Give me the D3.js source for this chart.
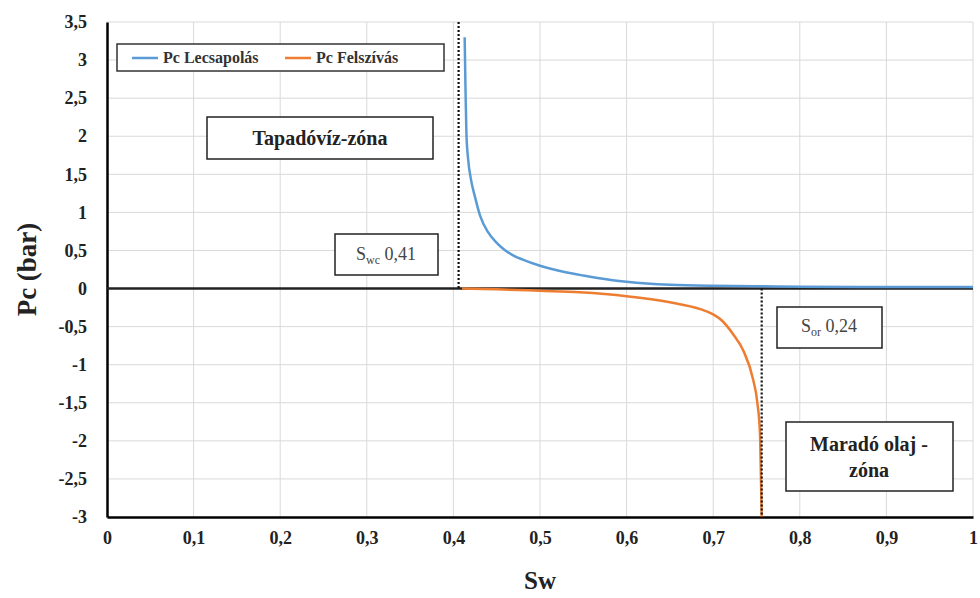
<!DOCTYPE html>
<html>
<head>
<meta charset="utf-8">
<script src="https://cdn.jsdelivr.net/npm/d3@7"></script>
<style>
    body { margin: 0; background: #ffffff; }
    svg { display: block; }
</style>
</head>
<body>
<div id="chart"></div>
<script>
// drainage curve (Pc Lecsapolás): [Sw, Pc]
var drainageSw = [0.413, 0.414, 0.415, 0.417, 0.42, 0.425, 0.431, 0.44, 0.45, 0.46, 0.47, 0.48, 0.5, 0.527, 0.55, 0.584, 0.6, 0.65, 0.7, 0.75, 0.8, 0.9, 1.0];
var drainagePc = [3.30, 2.60, 2.05, 1.70, 1.45, 1.20, 0.95, 0.74, 0.60, 0.50, 0.43, 0.38, 0.30, 0.22, 0.17, 0.11, 0.09, 0.05, 0.035, 0.03, 0.025, 0.02, 0.02];

// imbibition curve (Pc Felszívás)
var imbibitionSw = [0.41, 0.45, 0.5, 0.546, 0.6, 0.65, 0.685, 0.7, 0.71, 0.723, 0.735, 0.746, 0.751, 0.754, 0.755, 0.756];
var imbibitionPc = [0, -0.01, -0.03, -0.05, -0.10, -0.18, -0.27, -0.34, -0.42, -0.60, -0.82, -1.19, -1.50, -1.90, -2.40, -3.0];

var xTicks = [0, 0.1, 0.2, 0.3, 0.4, 0.5, 0.6, 0.7, 0.8, 0.9, 1];
var yTicks = [-3, -2.5, -2, -1.5, -1, -0.5, 0, 0.5, 1, 1.5, 2, 2.5, 3, 3.5];

var seriesNames = ["Pc Lecsapolás", "Pc Felszívás"];
var seriesColors = ["#5b9bd5", "#ed7d31"];

var swcLine = 0.406;   // Swc 0,41
var sorLine = 0.756;   // 1 - Sor (0,24)

var FONT = "Liberation Serif";

var width = 980, height = 598;
var margin = {top: 22, right: 7, bottom: 81, left: 107};

var svg = d3.select("#chart").append("svg")
    .attr("width", width)
    .attr("height", height)
    .attr("font-family", FONT);

var x = d3.scaleLinear().domain([0, 1]).range([margin.left, width - margin.right]);
var y = d3.scaleLinear().domain([-3, 3.5]).range([height - margin.bottom, margin.top]);

var fmt = function (d) { return String(d).replace(".", ","); };

// gridlines
var grid = svg.append("g");
grid.selectAll("line.gx").data(xTicks.slice(1)).enter().append("line")
    .attr("x1", function (d) { return x(d); })
    .attr("x2", function (d) { return x(d); })
    .attr("y1", y(3.5))
    .attr("y2", y(-3))
    .attr("stroke", "#d9d9d9")
    .attr("stroke-width", 1);
grid.selectAll("line.gy").data(yTicks.slice(1)).enter().append("line")
    .attr("x1", x(0))
    .attr("x2", x(1))
    .attr("y1", function (d) { return y(d); })
    .attr("y2", function (d) { return y(d); })
    .attr("stroke", "#d9d9d9")
    .attr("stroke-width", 1);

// axes
var xAxis = svg.append("g")
    .attr("transform", "translate(0," + y(-3) + ")")
    .call(d3.axisBottom(x).tickValues(xTicks).tickFormat(fmt).tickSize(0).tickPadding(14));
xAxis.attr("font-family", FONT);
xAxis.select(".domain").attr("stroke", "#000").attr("stroke-width", 2.5);
xAxis.selectAll("text")
    .style("font-family", FONT)
    .attr("font-weight", "bold")
    .attr("font-size", 18)
    .attr("fill", "#222");

var yAxis = svg.append("g")
    .attr("transform", "translate(" + x(0) + ",0)")
    .call(d3.axisLeft(y).tickValues(yTicks).tickFormat(fmt).tickSize(0).tickPadding(20));
yAxis.attr("font-family", FONT);
yAxis.select(".domain").attr("stroke", "#000").attr("stroke-width", 2.5);
yAxis.selectAll("text")
    .style("font-family", FONT)
    .attr("font-weight", "bold")
    .attr("font-size", 18)
    .attr("fill", "#222");

// zero line
svg.append("line")
    .attr("x1", x(0)).attr("x2", x(1))
    .attr("y1", y(0)).attr("y2", y(0))
    .attr("stroke", "#222")
    .attr("stroke-width", 2.5);

// axis titles
svg.append("text")
    .attr("x", x(0.5))
    .attr("y", 589)
    .attr("text-anchor", "middle")
    .attr("font-weight", "bold")
    .attr("font-size", 25)
    .attr("fill", "#222")
    .text("Sw");
svg.append("text")
    .attr("transform", "translate(36," + y(0.25) + ") rotate(-90)")
    .attr("text-anchor", "middle")
    .attr("font-weight", "bold")
    .attr("font-size", 27)
    .attr("fill", "#222")
    .text("Pc (bar)");

// curves
var line = d3.line()
    .x(function (d) { return x(d[0]); })
    .y(function (d) { return y(d[1]); })
    .curve(d3.curveMonotoneX);

var drainage = drainageSw.map(function (s, i) { return [s, drainagePc[i]]; });
var imbibition = imbibitionSw.map(function (s, i) { return [s, imbibitionPc[i]]; });

svg.append("path").datum(imbibition)
    .attr("d", line)
    .attr("fill", "none")
    .attr("stroke", seriesColors[1])
    .attr("stroke-width", 2.5);
svg.append("path").datum(drainage)
    .attr("d", line)
    .attr("fill", "none")
    .attr("stroke", seriesColors[0])
    .attr("stroke-width", 2.5);

// dotted limit lines
svg.append("line")
    .attr("x1", x(swcLine)).attr("x2", x(swcLine))
    .attr("y1", y(3.5)).attr("y2", y(0))
    .attr("stroke", "#111")
    .attr("stroke-width", 2.2)
    .attr("stroke-dasharray", "2,2");
svg.append("line")
    .attr("x1", x(sorLine)).attr("x2", x(sorLine))
    .attr("y1", y(0)).attr("y2", y(-3))
    .attr("stroke", "#111")
    .attr("stroke-width", 2.2)
    .attr("stroke-dasharray", "2,2");

// legend
var legend = svg.append("g");
legend.append("rect")
    .attr("x", 117).attr("y", 44)
    .attr("width", 327).attr("height", 27)
    .attr("fill", "#fff")
    .attr("stroke", "#333")
    .attr("stroke-width", 1.5);
var legendX = [132, 285];
seriesNames.forEach(function (name, i) {
    legend.append("line")
        .attr("x1", legendX[i]).attr("x2", legendX[i] + 26)
        .attr("y1", 58).attr("y2", 58)
        .attr("stroke", seriesColors[i])
        .attr("stroke-width", 2.5);
    legend.append("text")
        .attr("x", legendX[i] + 31)
        .attr("y", 63)
        .attr("font-weight", "bold")
        .attr("font-size", 16)
        .attr("fill", "#333")
        .text(name);
});

// annotation boxes
function box(x0, y0, w, h) {
    svg.append("rect")
        .attr("x", x0).attr("y", y0)
        .attr("width", w).attr("height", h)
        .attr("fill", "#fff")
        .attr("stroke", "#222")
        .attr("stroke-width", 1.5);
}

box(207, 117, 226, 42);
svg.append("text")
    .attr("x", 320).attr("y", 145)
    .attr("text-anchor", "middle")
    .attr("font-weight", "bold")
    .attr("font-size", 20)
    .attr("fill", "#222")
    .text("Tapadóvíz-zóna");

box(335, 234, 103, 41);
var swcText = svg.append("text")
    .attr("x", 386).attr("y", 260)
    .attr("text-anchor", "middle")
    .attr("font-size", 18)
    .attr("fill", "#444");
swcText.append("tspan").text("S");
swcText.append("tspan").attr("font-size", 12).attr("dy", 4).text("wc");
swcText.append("tspan").attr("dy", -4).text(" 0,41");

box(777, 307, 105, 41);
var sorText = svg.append("text")
    .attr("x", 829).attr("y", 332)
    .attr("text-anchor", "middle")
    .attr("font-size", 18)
    .attr("fill", "#444");
sorText.append("tspan").text("S");
sorText.append("tspan").attr("font-size", 12).attr("dy", 4).text("or");
sorText.append("tspan").attr("dy", -4).text(" 0,24");

box(786, 422, 167, 69);
svg.append("text")
    .attr("x", 869).attr("y", 451)
    .attr("text-anchor", "middle")
    .attr("font-weight", "bold")
    .attr("font-size", 20)
    .attr("fill", "#222")
    .text("Maradó olaj -");
svg.append("text")
    .attr("x", 869).attr("y", 477)
    .attr("text-anchor", "middle")
    .attr("font-weight", "bold")
    .attr("font-size", 20)
    .attr("fill", "#222")
    .text("zóna");
</script>
</body>
</html>
